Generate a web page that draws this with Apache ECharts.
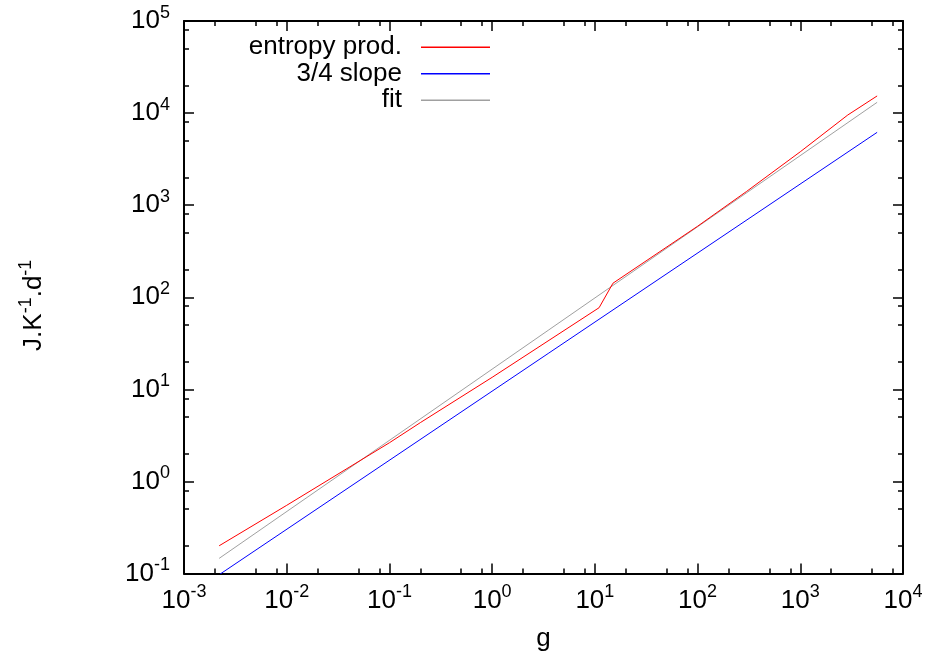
<!DOCTYPE html>
<html>
<head>
<meta charset="utf-8">
<script src="https://cdn.jsdelivr.net/npm/echarts@6/dist/echarts.min.js"></script>
<style>
html,body{margin:0;padding:0;background:#fff;}
#chart{width:926px;height:657px;}
</style>
</head>
<body>
<div id="chart"></div>
<script>
var myChart = echarts.init(document.getElementById('chart'));

/* data */
var seriesNames = ['entropy prod.', '3/4 slope', 'fit'];
var entropyData = [
    [0.0022, 0.2], [0.01, 0.55], [0.1, 2.63], [0.2, 4.35], [1, 13.5],
    [11, 77], [15, 142], [100, 590], [300, 1410], [1000, 3800],
    [2900, 9530], [5600, 15350]
];
var slopeData = [[0.0022, 0.097], [5600, 6180]];
var fitData = [[0.0022, 0.146], [5600, 13090]];

var xMajor = [0.001, 0.01, 0.1, 1, 10, 100, 1000, 10000];
var yMajor = [0.1, 1, 10, 100, 1000, 10000, 100000];
var minorSteps = [2, 5, 8];

function minors(major) {
    var out = [];
    for (var i = 0; i < major.length - 1; i++) {
        for (var j = 0; j < minorSteps.length; j++) out.push(major[i] * minorSteps[j]);
    }
    return out;
}

var FONT = 'Liberation Sans, Arial, sans-serif';
var supRich = {
    b: {fontSize: 26, fontFamily: FONT, color: '#000'},
    s: {fontSize: 18, fontFamily: FONT, color: '#000', padding: [0, 0, 16, 0]}
};
function powLabel(v) {
    var e = Math.round(Math.log10(v));
    return '{b|10}{s|' + e + '}';
}

function axisSet(dim, pos, major, min, max, withLabel) {
    var base = {
        type: 'log', logBase: 10, min: min, max: max, position: pos,
        splitLine: {show: false}, axisLine: {show: false}
    };
    var a = Object.assign({}, base, {
        axisLine: {show: true, onZero: false, lineStyle: {color: '#000', width: 2}},
        axisTick: {show: true, inside: true, length: 10, customValues: major, lineStyle: {color: '#000', width: 1.5}},
        axisLabel: withLabel ? {
            show: true, customValues: major, margin: dim === 'x' ? 10 : 14,
            formatter: powLabel, rich: supRich
        } : {show: false}
    });
    var b = Object.assign({}, base, {
        axisTick: {show: true, inside: true, length: 5, customValues: minors(major), lineStyle: {color: '#000', width: 1.5}},
        axisLabel: {show: false}
    });
    return [a, b];
}

var xAxes = axisSet('x', 'bottom', xMajor, 0.001, 10000, true)
    .concat(axisSet('x', 'top', xMajor, 0.001, 10000, false));
var yAxes = axisSet('y', 'left', yMajor, 0.1, 100000, true)
    .concat(axisSet('y', 'right', yMajor, 0.1, 100000, false));

xAxes[0].name = 'g';
xAxes[0].nameLocation = 'middle';
xAxes[0].nameGap = 52;
xAxes[0].nameTextStyle = {fontSize: 26, fontFamily: FONT, color: '#000'};

yAxes[0].name = 'J.K{s|-1}.d{s|-1}';
yAxes[0].nameLocation = 'middle';
yAxes[0].nameGap = 133;
yAxes[0].nameRotate = 90;
yAxes[0].nameTextStyle = {
    fontSize: 26, fontFamily: FONT, color: '#000', padding: [0, 16, 0, 0],
    rich: {s: {fontSize: 18, fontFamily: FONT, color: '#000', padding: [0, 0, 16, 0]}}
};

var option = {
    animation: false,
    backgroundColor: '#fff',
    grid: {left: 184, right: 23, top: 21, bottom: 83.5, containLabel: false},
    legend: {
        orient: 'vertical', align: 'right',
        right: 436, top: 34, padding: 0,
        icon: 'rect', itemWidth: 69, itemHeight: 1.3, itemGap: 0,
        textStyle: {fontSize: 26, fontFamily: FONT, color: '#000', lineHeight: 26.5, padding: [0, 14, 0, 0]},
        data: seriesNames
    },
    xAxis: xAxes,
    yAxis: yAxes,
    series: [
        {name: seriesNames[0], type: 'line', data: entropyData, symbol: 'none', z: 3,
            lineStyle: {color: '#ff0000', width: 1}, itemStyle: {color: '#ff0000'}},
        {name: seriesNames[1], type: 'line', data: slopeData, symbol: 'none',
            lineStyle: {color: '#0000ff', width: 1}, itemStyle: {color: '#0000ff'}},
        {name: seriesNames[2], type: 'line', data: fitData, symbol: 'none', z: 2,
            lineStyle: {color: '#a0a0a0', width: 1}, itemStyle: {color: '#a0a0a0'}}
    ]
};
myChart.setOption(option);
</script>
</body>
</html>
